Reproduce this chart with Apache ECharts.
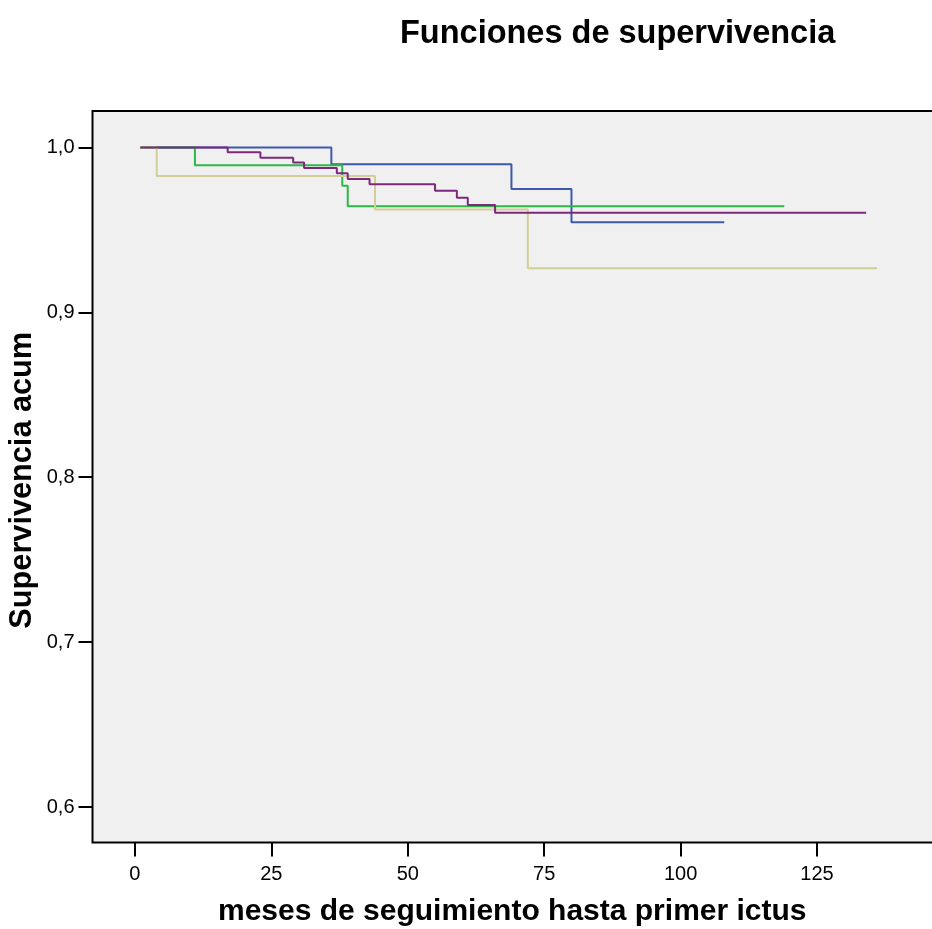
<!DOCTYPE html>
<html>
<head>
<meta charset="utf-8">
<script src="https://cdn.jsdelivr.net/npm/echarts@6/dist/echarts.min.js"></script>
<style>
html,body{margin:0;padding:0;background:#fff;}
#chart{width:932px;height:929px;}
</style>
</head>
<body>
<div id="chart"></div>
<script>
// Kaplan-Meier step data: [months, cumulative survival]
const blueSeries = [[1,1.0],[36,0.9898],[69,0.9748],[80,0.9546],[108,0.9546]];
const greenSeries = [[1,1.0],[11,0.9892],[38,0.9768],[39,0.9643],[119,0.9643]];
const beigeSeries = [[1,1.0],[4,0.9827],[44,0.9623],[72,0.9267],[136,0.9267]];
const purpleSeries = [[1,1.0],[17,0.9971],[23,0.9938],[29,0.9908],[31,0.9876],[37,0.9843],[39,0.9809],[43,0.9777],[55,0.9738],[59,0.9695],[61,0.9651],[66,0.9604],[134,0.9604]];
const xTicks = [0,25,50,75,100,125];
const yTicks = [0.6,0.7,0.8,0.9,1.0];

const FONT = '"Liberation Sans", Arial, Helvetica, sans-serif';
const chart = echarts.init(document.getElementById('chart'), null, {renderer:'canvas'});

function mk(name, data, color){
  return {
    name, type:'line', data, step:'end', showSymbol:false, symbol:'none',
    lineStyle:{color, width:2}, itemStyle:{color}, animation:false
  };
}

chart.setOption({
  animation:false,
  backgroundColor:'#ffffff',
  title:{
    text:'Funciones de supervivencia',
    left:395, top:13,
    textStyle:{fontFamily:FONT, fontWeight:'bold', fontSize:32.5, color:'#000'}
  },
  grid:{
    left:92.5, top:111, right:-10, bottom:86.5,
    outerBoundsMode:'none',
    show:true, backgroundColor:'#f0f0f0', borderColor:'#000', borderWidth:2,
    containLabel:false
  },
  xAxis:{
    type:'value', min:-7.77, max:147.9,
    name:'meses de seguimiento hasta primer ictus',
    nameLocation:'middle', nameGap:54, nameMoveOverlap:false,
    nameTextStyle:{fontFamily:FONT, fontWeight:'bold', fontSize:30, color:'#000', padding:[0,10,0,0]},
    axisLine:{show:false, onZero:false},
    axisTick:{show:true, length:14, lineStyle:{color:'#000', width:2}, customValues:xTicks},
    axisLabel:{fontFamily:FONT, fontSize:20, color:'#000', margin:22, customValues:xTicks},
    splitLine:{show:false}
  },
  yAxis:{
    type:'value', min:0.5785, max:1.0221,
    name:'Supervivencia acum',
    nameLocation:'middle', nameGap:54, nameMoveOverlap:false,
    nameTextStyle:{fontFamily:FONT, fontWeight:'bold', fontSize:30.7, color:'#000', padding:[0,7,0,0]},
    axisLine:{show:false, onZero:false},
    axisTick:{show:true, length:14, lineStyle:{color:'#000', width:2}, customValues:yTicks},
    axisLabel:{fontFamily:FONT, fontSize:20, color:'#000', margin:18, customValues:yTicks,
      formatter:v=>v.toFixed(1).replace('.',',')},
    splitLine:{show:false}
  },
  series:[
    mk('1', blueSeries, '#3E58AC'),
    mk('2', greenSeries, '#2EB848'),
    mk('3', beigeSeries, '#D3CE97'),
    mk('4', purpleSeries, '#7C287D')
  ]
});
</script>
</body>
</html>
